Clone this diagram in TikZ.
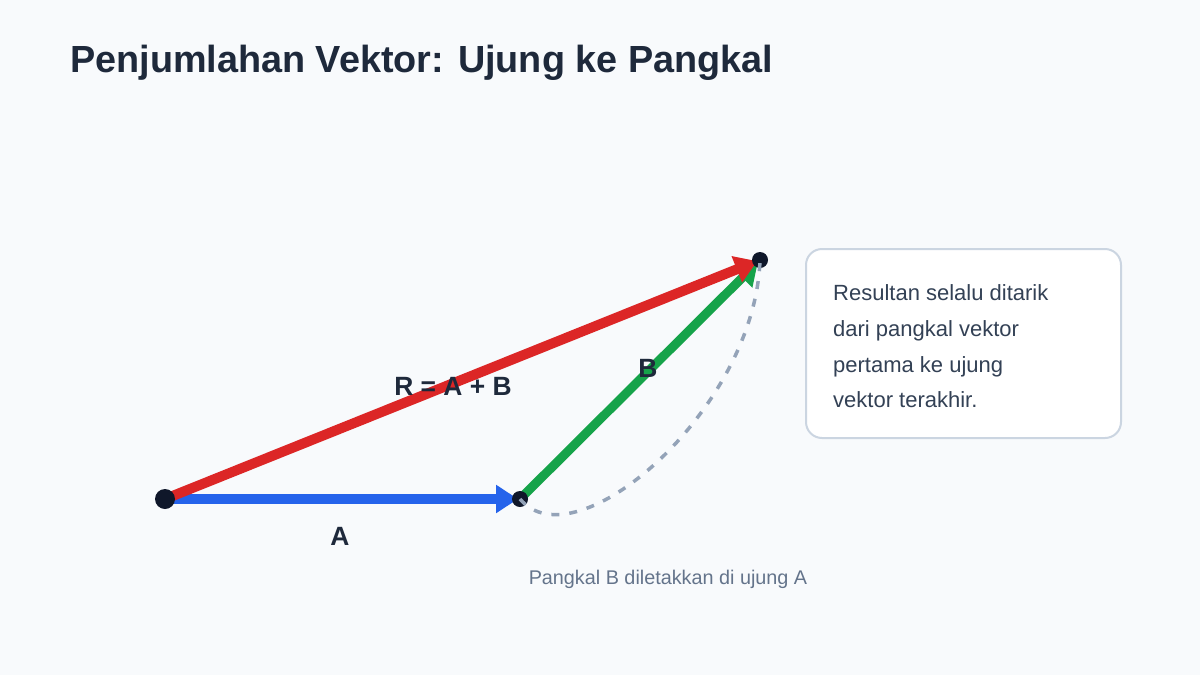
\documentclass[tikz,border=0pt]{standalone}
\usepackage{fontspec}
\setmainfont{Liberation Sans}
\usetikzlibrary{arrows.meta}
\definecolor{bg}{HTML}{F8FAFC}
\definecolor{ink}{HTML}{1E293B}
\definecolor{dotc}{HTML}{0F172A}
\definecolor{vblue}{HTML}{2563EB}
\definecolor{vred}{HTML}{DC2626}
\definecolor{vgreen}{HTML}{16A34A}
\definecolor{dashc}{HTML}{94A3B8}
\definecolor{boxline}{HTML}{CBD5E1}
\definecolor{boxtext}{HTML}{334155}
\definecolor{note}{HTML}{64748B}
\begin{document}
\begin{tikzpicture}[x=1pt,y=-1pt,
  vec/.style={line width=10pt,-{Triangle[length=22pt,width=27pt]}},
  dotnode/.style={circle,fill=dotc,inner sep=0pt,minimum size=#1},
  dashcurve/.style={dashc,line width=3.5pt,dash pattern=on 8pt off 10pt},
  lbl/.style={ink,font=\bfseries\fontsize{26.4}{30}\selectfont,inner sep=0pt,anchor=base},
  boxtxt/.style={boxtext,font=\fontsize{22}{26}\selectfont,inner sep=0pt,anchor=base west},
  infobox/.style={draw=boxline,line width=2pt,fill=white,rounded corners=16pt}]
\useasboundingbox (0,0) rectangle (1200,675);
\fill[bg] (0,0) rectangle (1200,675);
% title
\node[ink,font=\bfseries\fontsize{37.8}{44}\selectfont,inner sep=0pt,anchor=base west] (title) at (70,72) {Penjumlahan Vektor: Ujung ke Pangkal};
% points
\coordinate (o) at (165,499);
\coordinate (a) at (520,499);
\coordinate (r) at (760,260);
% vectors
\draw[vec,vblue,shorten >=2pt] (o) -- (a);
\draw[vec,vgreen,line width=9pt,shorten >=3pt] (a) -- (r);
\draw[vec,vred,shorten >=3pt] (o) -- (r);
% dots
\node[dotnode=20pt] (od) at (o) {};
\node[dotnode=16pt] (ad) at (a) {};
\node[dotnode=16pt] (rd) at (r) {};
% dashed curve
\draw[dashcurve] (a) .. controls (575,565) and (755,410) .. (r);
% labels
\node[lbl] (la) at (340,545) {A};
\node[lbl] (lb) at (648,377) {B};
\node[lbl] (lr) at (453,395) {R = A + B};
% info box
\node[infobox,minimum width=315pt,minimum height=189pt,anchor=north west] (box) at (805,248) {};
\node[boxtxt] (t1) at (833,300) {Resultan selalu ditarik};
\node[boxtxt] (t2) at (833,336) {dari pangkal vektor};
\node[boxtxt] (t3) at (833,372) {pertama ke ujung};
\node[boxtxt] (t4) at (833,407) {vektor terakhir.};
% note
\node[note,font=\fontsize{19.8}{24}\selectfont,inner sep=0pt,anchor=base] (nt) at (668,584) {Pangkal B diletakkan di ujung A};
\end{tikzpicture}
\end{document}
